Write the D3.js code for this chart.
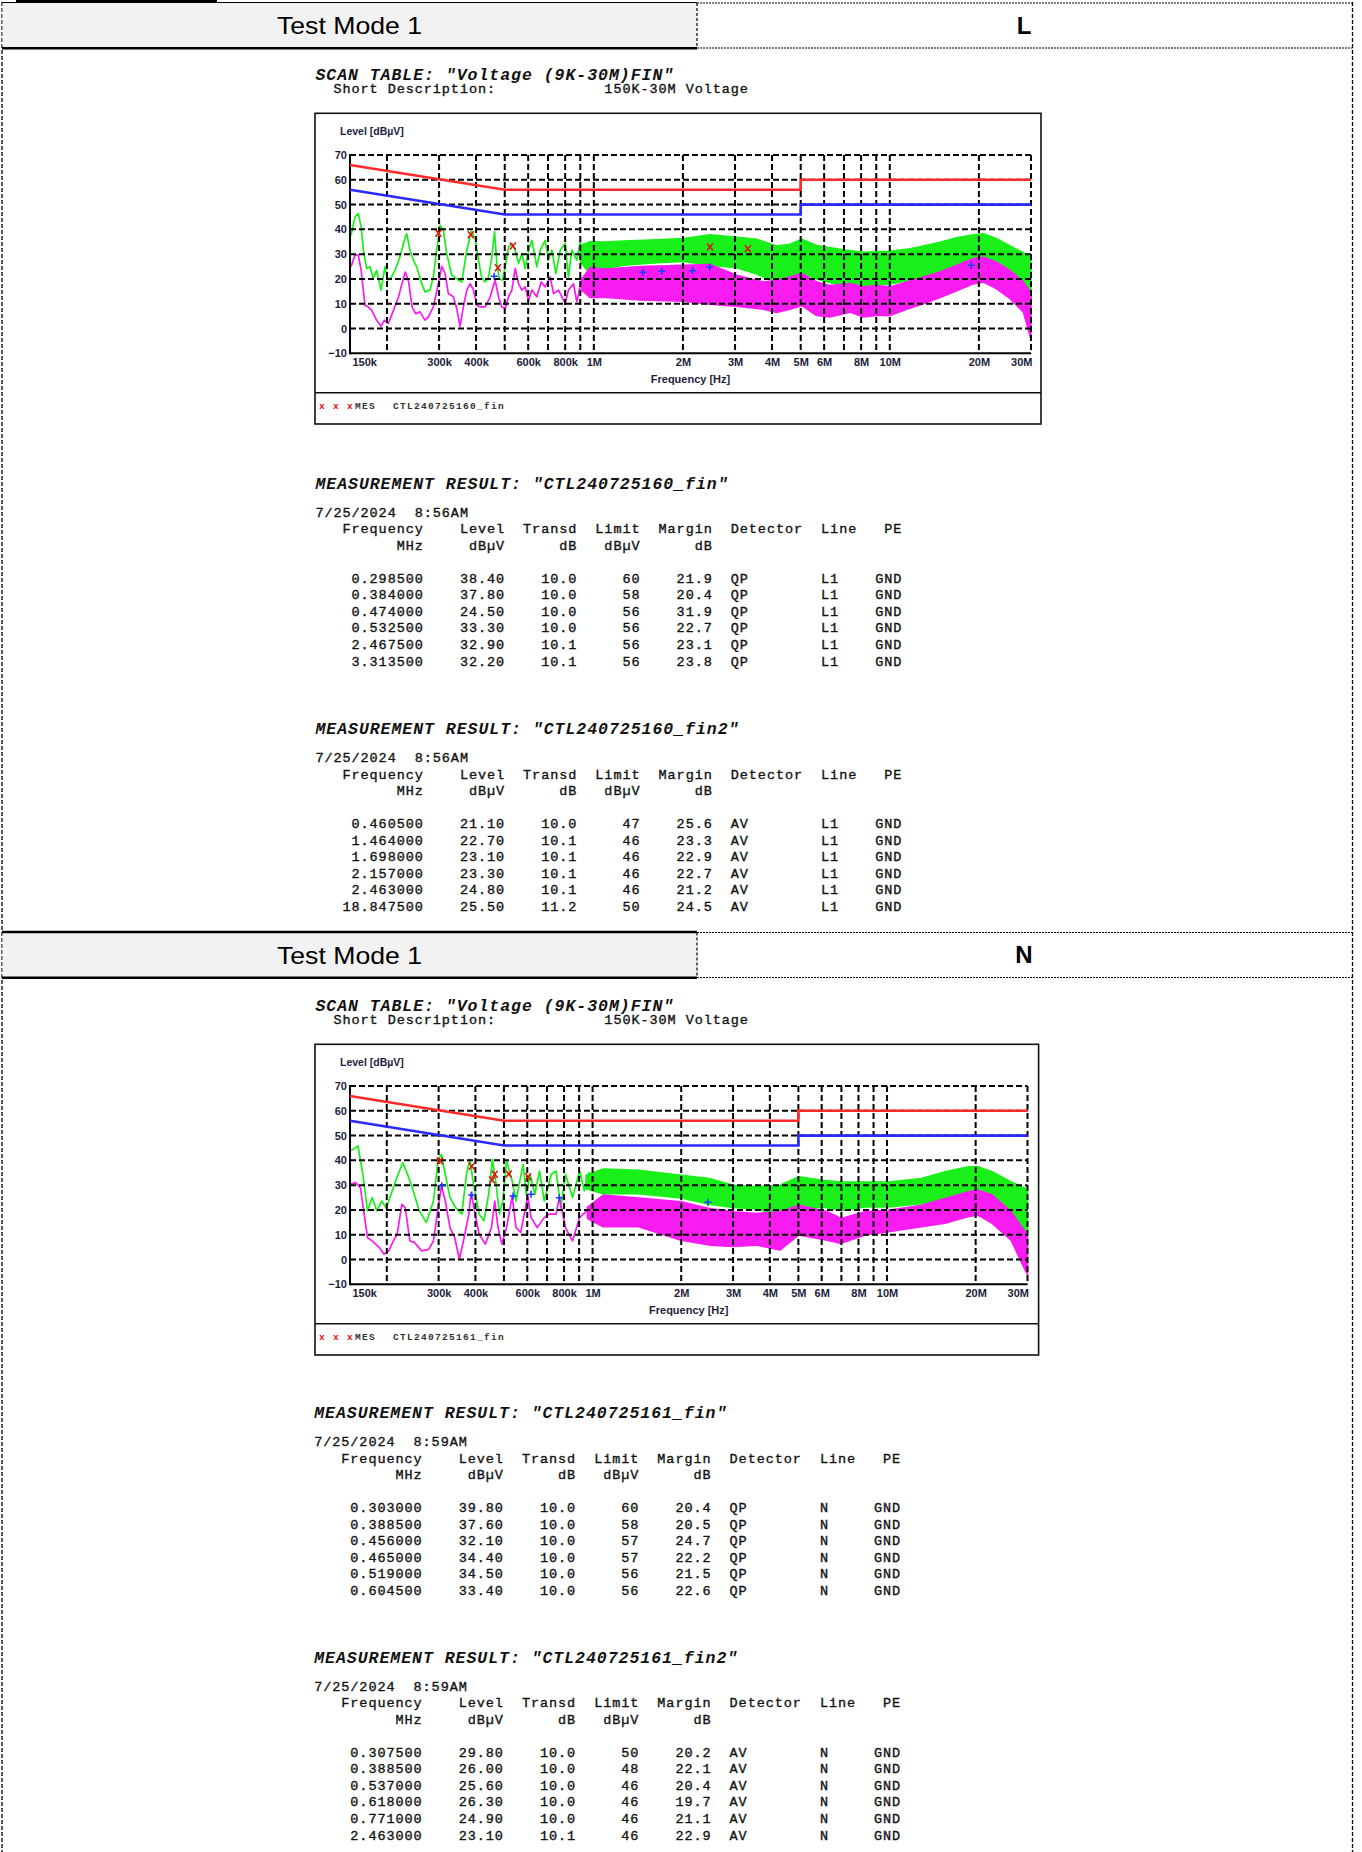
<!DOCTYPE html>
<html>
<head>
<meta charset="utf-8">
<script src="https://cdn.jsdelivr.net/npm/d3@7"></script>
<style>
  body { margin: 0; background: #fff; }
  svg { display: block; }
</style>
</head>
<body>
<svg id="page" width="1362" height="1852"></svg>
<script>
// ---- data ----
const yTicks = [-10, 0, 10, 20, 30, 40, 50, 60, 70];
const xTicks = [0.15, 0.3, 0.4, 0.6, 0.8, 1, 2, 3, 4, 5, 6, 8, 10, 20, 30];
const xTickLabels = ["150k", "300k", "400k", "600k", "800k", "1M", "2M", "3M", "4M", "5M", "6M", "8M", "10M", "20M", "30M"];
const gridFreqs = [0.2, 0.3, 0.4, 0.5, 0.6, 0.7, 0.8, 0.9, 1, 2, 3, 4, 5, 6, 7, 8, 9, 10, 20, 30];

const limitQP = [[0.15, 66], [0.5, 56], [5, 56], [5, 60], [30, 60]];
const limitAV = [[0.15, 56], [0.5, 46], [5, 46], [5, 50], [30, 50]];

// line L : peak (green) and average (magenta) traces, [MHz, dBuV]; bands are [MHz, low, high]
const lQpTrace = [[0.1512,37.6],[0.1559,45.0],[0.1600,46.4],[0.1636,41.0],[0.1665,31.6],[0.1707,24.2],[0.1752,24.9],[0.1797,20.2],[0.1845,23.5],[0.1909,15.5],[0.1969,24.9],[0.2011,19.5],[0.2074,20.8],[0.2128,23.5],[0.2213,28.9],[0.2289,35.6],[0.2331,38.3],[0.2392,31.6],[0.2455,27.6],[0.2520,24.9],[0.2620,18.1],[0.2689,14.8],[0.2795,15.5],[0.2869,20.8],[0.2944,31.6],[0.3022,41.7],[0.3102,39.7],[0.3184,30.2],[0.3311,21.5],[0.3489,19.5],[0.3580,18.8],[0.3722,31.6],[0.3850,39.2],[0.3972,36.3],[0.4077,27.6],[0.4184,20.2],[0.4294,18.8],[0.4407,20.8],[0.4523,28.9],[0.4618,39.0],[0.4703,26.2],[0.4789,20.2],[0.4915,19.5],[0.5044,26.2],[0.5150,32.9],[0.5285,34.3],[0.5424,31.6],[0.5566,26.2],[0.5713,30.2],[0.5862,24.2],[0.6017,31.6],[0.6175,35.6],[0.6419,24.9],[0.6588,31.6],[0.6849,35.6],[0.7028,27.6],[0.7213,31.6],[0.7441,22.2],[0.7697,31.6],[0.7999,34.3],[0.8209,20.8],[0.8425,31.6],[0.8758,27.6],[0.8989,34.9],[0.9346,24.9],[0.9716,32.9],[0.9971,28.9],[1.0368,34.3],[1.0778,27.6]];
const lQpBand = [[0.90,27.0,33.5],[0.9706,22.0,35.0],[1.105,24.0,34.9],[1.258,25.5,35.3],[1.631,26.5,35.8],[2.006,27.0,36.3],[2.469,25.5,37.8],[3.038,24.5,36.8],[3.549,22.0,36.0],[4.147,18.5,33.3],[4.601,19.5,34.0],[5.038,22.5,36.0],[5.660,20.0,33.5],[6.966,17.0,31.8],[8.140,17.2,30.8],[10.02,18.0,31.2],[11.70,19.5,32.2],[12.98,20.5,33.3],[14.78,22.5,34.8],[16.83,24.5,36.6],[19.15,26.5,37.8],[20.71,27.0,38.2],[22.97,23.5,36.2],[25.48,18.5,33.3],[28.27,14.5,30.6],[30,10.5,28.8]];
const lAvTrace = [[0.1512,24.9],[0.1559,29.6],[0.1600,29.6],[0.1636,23.5],[0.1685,9.4],[0.1730,8.7],[0.1774,7.4],[0.1845,3.4],[0.1909,0.9],[0.1959,3.4],[0.2021,2.0],[0.2105,7.4],[0.2189,12.8],[0.2247,18.1],[0.2306,22.8],[0.2368,18.8],[0.2431,8.7],[0.2500,6.0],[0.2585,6.7],[0.2689,3.4],[0.2760,4.7],[0.2869,8.7],[0.2983,18.1],[0.3062,25.1],[0.3142,22.2],[0.3225,14.1],[0.3352,12.8],[0.3440,8.1],[0.3531,0.9],[0.3624,8.7],[0.3722,15.5],[0.3820,18.1],[0.3920,15.5],[0.4024,9.4],[0.4129,8.7],[0.4294,8.7],[0.4464,12.8],[0.4641,19.5],[0.4763,12.8],[0.4889,8.7],[0.5018,8.1],[0.5150,12.8],[0.5285,15.5],[0.5424,24.2],[0.5566,18.1],[0.5713,15.5],[0.5862,16.8],[0.6017,11.4],[0.6175,15.5],[0.6419,12.8],[0.6640,18.8],[0.6849,16.8],[0.7121,20.8],[0.7308,14.1],[0.7598,15.5],[0.7999,10.1],[0.8209,15.5],[0.8535,18.1],[0.8758,10.8],[0.9107,20.2],[0.9346,15.5],[0.9716,18.1],[1.0100,20.8],[1.0500,19.5],[1.0778,20.8]];
const lAvBand = [[0.91,15.5,20.0],[0.9706,12.5,24.5],[1.105,12.5,24.0],[1.432,11.5,25.0],[2.006,11.0,25.5],[2.469,9.8,25.8],[3.038,9.0,21.5],[3.738,7.8,18.8],[4.147,6.5,19.5],[4.601,7.8,20.8],[5.038,9.2,22.2],[5.660,5.2,18.8],[6.281,4.6,17.4],[7.337,6.6,18.2],[8.140,4.6,16.8],[9.031,5.2,17.4],[10.02,5.2,16.8],[11.40,7.8,18.8],[12.98,10.0,20.8],[14.78,12.5,22.8],[16.83,15.2,25.5],[19.15,18.0,28.2],[20.71,18.7,28.8],[22.97,16.0,26.8],[25.48,12.0,23.4],[28.27,6.6,18.8],[30,-4.5,14.5]];

// line N
const nQpTrace = [[0.15,43.8],[0.1568,45.1],[0.1597,45.8],[0.1658,34.4],[0.1720,19.6],[0.1784,25.0],[0.1851,19.6],[0.1921,23.6],[0.1993,20.9],[0.2106,29.0],[0.2185,34.4],[0.2267,39.1],[0.2352,34.4],[0.2441,29.0],[0.2580,19.6],[0.2726,14.9],[0.2881,23.6],[0.2989,40.4],[0.3068,42.4],[0.3160,34.4],[0.3279,25.0],[0.3427,20.9],[0.3595,18.3],[0.3730,34.4],[0.3827,40.4],[0.3942,30.3],[0.4121,18.3],[0.4276,15.6],[0.4436,26.3],[0.4568,40.4],[0.4705,30.3],[0.4828,18.3],[0.4954,23.6],[0.5102,39.8],[0.5333,31.7],[0.5494,23.6],[0.5806,38.4],[0.5957,26.3],[0.6135,34.4],[0.6365,26.3],[0.6604,35.7],[0.6852,23.6],[0.7243,34.4],[0.7515,35.7],[0.7797,20.9],[0.8089,34.4],[0.8548,25.0],[0.9035,35.7],[0.9373,27.7],[0.9727,35.1],[1.028,31.7],[1.086,35.7]];
const nQpBand = [[0.95,28.5,34.0],[1.086,26.5,36.5],[1.432,26.5,36.0],[1.996,24.8,34.0],[2.491,22.3,32.7],[2.995,21.0,30.0],[3.601,20.4,29.4],[4.330,17.8,30.0],[5.018,19.8,33.4],[6.035,21.2,32.0],[6.993,19.8,31.3],[8.409,21.2,31.3],[10.11,21.2,31.3],[13.09,22.5,32.7],[15.74,24.5,35.4],[18.92,26.6,37.4],[20.37,27.2,37.4],[22.76,24.0,35.4],[26.38,17.2,31.3],[29.46,11.8,28.7],[30,11.0,29.0]];
const nAvTrace = [[0.15,30.3],[0.1568,31.0],[0.1627,29.0],[0.1676,18.3],[0.1720,8.8],[0.1784,7.5],[0.1886,4.8],[0.1957,2.1],[0.2030,3.5],[0.2106,7.5],[0.2169,10.2],[0.2251,22.3],[0.2310,20.9],[0.2396,7.5],[0.2486,6.8],[0.2628,3.5],[0.2777,4.1],[0.2881,7.5],[0.2989,20.9],[0.3068,29.7],[0.3160,23.6],[0.3279,12.9],[0.3402,8.8],[0.3529,0.1],[0.3662,8.8],[0.3799,18.3],[0.3870,27.0],[0.3971,19.6],[0.4121,10.2],[0.4323,6.2],[0.4535,12.9],[0.4653,23.6],[0.4775,12.9],[0.4918,6.2],[0.5102,12.9],[0.5333,25.6],[0.5494,12.9],[0.5700,10.9],[0.6023,25.6],[0.6180,16.9],[0.6483,12.9],[0.6852,16.9],[0.7109,18.3],[0.7515,18.3],[0.7711,25.0],[0.8089,12.9],[0.8548,7.5],[0.9035,16.9],[0.9548,19.6],[1.009,20.9],[1.086,22.3]];
const nAvBand = [[0.96,16.5,21.0],[1.086,13.2,26.0],[1.432,13.2,24.8],[1.996,7.8,23.3],[2.491,5.8,20.6],[2.995,5.2,19.3],[3.601,5.8,18.6],[4.330,3.8,19.3],[5.018,9.9,21.9],[6.261,7.8,19.3],[6.993,6.5,16.6],[8.409,9.9,19.3],[10.11,11.2,19.9],[13.09,13.2,21.9],[15.74,14.6,24.6],[18.92,17.3,27.3],[20.37,17.9,28.0],[22.76,14.6,26.0],[26.38,7.8,19.3],[29.46,-4.3,11.2],[30,-6.0,9.0]];

// measurement tables
const colHeads = ["Frequency", "Level", "Transd", "Limit", "Margin", "Detector", "Line", "PE"];
const colUnits = ["MHz", "dB\u00b5V", "dB", "dB\u00b5V", "dB"];
const lQpRows = [
  ["0.298500","38.40","10.0","60","21.9","QP","L1","GND"],
  ["0.384000","37.80","10.0","58","20.4","QP","L1","GND"],
  ["0.474000","24.50","10.0","56","31.9","QP","L1","GND"],
  ["0.532500","33.30","10.0","56","22.7","QP","L1","GND"],
  ["2.467500","32.90","10.1","56","23.1","QP","L1","GND"],
  ["3.313500","32.20","10.1","56","23.8","QP","L1","GND"]];
const lAvRows = [
  ["0.460500","21.10","10.0","47","25.6","AV","L1","GND"],
  ["1.464000","22.70","10.1","46","23.3","AV","L1","GND"],
  ["1.698000","23.10","10.1","46","22.9","AV","L1","GND"],
  ["2.157000","23.30","10.1","46","22.7","AV","L1","GND"],
  ["2.463000","24.80","10.1","46","21.2","AV","L1","GND"],
  ["18.847500","25.50","11.2","50","24.5","AV","L1","GND"]];
const nQpRows = [
  ["0.303000","39.80","10.0","60","20.4","QP","N","GND"],
  ["0.388500","37.60","10.0","58","20.5","QP","N","GND"],
  ["0.456000","32.10","10.0","57","24.7","QP","N","GND"],
  ["0.465000","34.40","10.0","57","22.2","QP","N","GND"],
  ["0.519000","34.50","10.0","56","21.5","QP","N","GND"],
  ["0.604500","33.40","10.0","56","22.6","QP","N","GND"]];
const nAvRows = [
  ["0.307500","29.80","10.0","50","20.2","AV","N","GND"],
  ["0.388500","26.00","10.0","48","22.1","AV","N","GND"],
  ["0.537000","25.60","10.0","46","20.4","AV","N","GND"],
  ["0.618000","26.30","10.0","46","19.7","AV","N","GND"],
  ["0.771000","24.90","10.0","46","21.1","AV","N","GND"],
  ["2.463000","23.10","10.1","46","22.9","AV","N","GND"]];

// ---- drawing ----
const svg = d3.select("#page");
const W = 1362, H = 1852;
const mono = "'Liberation Mono', 'Courier New', monospace";
const sans = "'Liberation Sans', Arial, sans-serif";

// page frame
svg.append("line").attr("x1", 2).attr("x2", 2).attr("y1", 2).attr("y2", H)
  .attr("stroke", "#000").attr("stroke-width", 1.3).attr("stroke-dasharray", "4,2");
svg.append("line").attr("x1", 1352.5).attr("x2", 1352.5).attr("y1", 2).attr("y2", H)
  .attr("stroke", "#000").attr("stroke-width", 1.3).attr("stroke-dasharray", "4,2");

const cellSplit = 697;

const drawHeader = (y0, label, first) => {
  const g = svg.append("g");
  g.append("rect").attr("x", 2.5).attr("y", y0 + 3).attr("width", cellSplit - 2.5).attr("height", 44.5)
    .attr("fill", "#f2f2f2");
  if (first) {
    g.append("line").attr("x1", 16).attr("x2", 217).attr("y1", y0 + 1).attr("y2", y0 + 1)
      .attr("stroke", "#000").attr("stroke-width", 2.5);
    g.append("line").attr("x1", 2).attr("x2", cellSplit).attr("y1", y0 + 2.5).attr("y2", y0 + 2.5)
      .attr("stroke", "#000").attr("stroke-width", 1);
  } else {
    g.append("line").attr("x1", 2).attr("x2", cellSplit).attr("y1", y0 + 2.5).attr("y2", y0 + 2.5)
      .attr("stroke", "#000").attr("stroke-width", 2.5);
  }
  g.append("line").attr("x1", 2).attr("x2", cellSplit).attr("y1", y0 + 48.3).attr("y2", y0 + 48.3)
    .attr("stroke", "#000").attr("stroke-width", 2.5);
  [y0 + 3, y0 + 48].forEach(yy => {
    g.append("line").attr("x1", cellSplit).attr("x2", 1352.5).attr("y1", yy).attr("y2", yy)
      .attr("stroke", "#000").attr("stroke-width", 1.2).attr("stroke-dasharray", "2,1");
  });
  g.append("line").attr("x1", cellSplit).attr("x2", cellSplit).attr("y1", y0 + 3).attr("y2", y0 + 48)
    .attr("stroke", "#000").attr("stroke-width", 1.2).attr("stroke-dasharray", "3,2");
  g.append("text").attr("x", (2 + cellSplit) / 2).attr("y", y0 + 34)
    .attr("text-anchor", "middle").attr("font-family", sans).attr("font-size", "24px")
    .attr("textLength", 145).attr("lengthAdjust", "spacingAndGlyphs")
    .attr("fill", "#000").text("Test Mode 1");
  g.append("text").attr("x", 1024).attr("y", y0 + 33.5)
    .attr("text-anchor", "middle").attr("font-family", sans).attr("font-size", "24px")
    .attr("font-weight", "bold").attr("fill", "#000").text(label);
};

// monospace columns
const cw = 9.03;
const bodyFont = { size: 13.5, spacing: cw - 13.5 * 0.6 };
const titleFont = { size: 16.5, spacing: 10.87 - 16.5 * 0.6 };

const monoText = (g, x, y, s, opts = {}) => g.append("text")
  .attr("x", x).attr("y", y)
  .attr("font-family", mono)
  .attr("font-size", (opts.size || bodyFont.size) + "px")
  .attr("letter-spacing", (opts.spacing != null ? opts.spacing : bodyFont.spacing) + "px")
  .attr("font-weight", opts.bold ? "bold" : "normal")
  .attr("font-style", opts.italic ? "italic" : "normal")
  .attr("fill", opts.fill || "#111")
  .attr("stroke", opts.bold ? "none" : (opts.fill || "#111"))
  .attr("stroke-width", opts.bold ? 0 : 0.35)
  .style("white-space", "pre")
  .text(s);

const drawScanTitle = (x0, y0) => {
  const g = svg.append("g");
  monoText(g, x0, y0 + 79.5, 'SCAN TABLE: "Voltage (9K-30M)FIN"',
    { size: titleFont.size, spacing: titleFont.spacing, bold: true, italic: true, fill: "#111" });
  monoText(g, x0 + 2 * cw, y0 + 92.6, "Short Description:");
  monoText(g, x0 + 32 * cw, y0 + 92.6, "150K-30M Voltage");
};

const rowEnds = [12, 21, 29, 36, 44];   // right aligned columns
const rowStarts = [46, 56, 62];         // left aligned columns
const headStarts = [46, 56, 63];

const drawTable = (x0, yT, title, date, rows) => {
  const g = svg.append("g");
  const col = d3.scaleLinear().domain([0, 1]).range([x0, x0 + cw]);
  monoText(g, x0, yT, `MEASUREMENT RESULT: "${title}"`,
    { size: titleFont.size, spacing: titleFont.spacing, bold: true, italic: true, fill: "#111" });
  monoText(g, x0, yT + 28.3, date);
  const cellX = (s, i, starts) => i < 5 ? col(rowEnds[i] - s.length) : col(starts[i - 5]);
  colHeads.forEach((h, i) => monoText(g, cellX(h, i, headStarts), yT + 44.8, h));
  colUnits.forEach((u, i) => monoText(g, cellX(u, i, headStarts), yT + 61.4, u));
  rows.forEach((r, j) => {
    r.forEach((c, i) => monoText(g, cellX(c, i, rowStarts), yT + 94.3 + j * 16.54, c));
  });
};

const drawChart = (box, plot, traces, qpRows, avRows, legendName) => {
  const g = svg.append("g");
  // frame
  g.append("rect").attr("x", box.x0).attr("y", box.y0)
    .attr("width", box.x1 - box.x0).attr("height", box.y1 - box.y0)
    .attr("fill", "#fff").attr("stroke", "#111").attr("stroke-width", 1.6);
  g.append("line").attr("x1", box.x0).attr("x2", box.x1).attr("y1", box.sep).attr("y2", box.sep)
    .attr("stroke", "#111").attr("stroke-width", 1.6);

  const x = d3.scaleLog().domain([0.15, 30]).range([plot.x0, plot.x1]);
  const y = d3.scaleLinear().domain([-10, 70]).range([plot.y1, plot.y0]);

  const line = d3.line().x(d => x(d[0])).y(d => y(d[1]));
  const area = d3.area().x(d => x(d[0])).y0(d => y(d[1])).y1(d => y(d[2]));

  const drawTrace = (pts, band, color) => {
    g.append("path").datum(band).attr("d", area)
      .attr("fill", color).attr("stroke", color).attr("stroke-width", 1.5).attr("stroke-linejoin", "round");
    g.append("path").datum(pts).attr("d", line)
      .attr("fill", "none").attr("stroke", color).attr("stroke-width", 1.7).attr("stroke-linejoin", "round");
  };
  drawTrace(traces.qp, traces.qpBand, "#19f019");
  drawTrace(traces.av, traces.avBand, "#f81cf0");

  // grid
  const grid = g.append("g").attr("stroke", "#000").attr("stroke-width", 2).attr("stroke-dasharray", "6,3");
  yTicks.filter(v => v > -10).forEach(v => {
    grid.append("line").attr("x1", plot.x0).attr("x2", plot.x1).attr("y1", y(v)).attr("y2", y(v));
  });
  gridFreqs.forEach(f => {
    grid.append("line").attr("x1", x(f)).attr("x2", x(f)).attr("y1", plot.y0).attr("y2", plot.y1);
  });
  g.append("line").attr("x1", plot.x0).attr("x2", plot.x0).attr("y1", plot.y0 - 1).attr("y2", plot.y1 + 1)
    .attr("stroke", "#000").attr("stroke-width", 2);
  g.append("line").attr("x1", plot.x0).attr("x2", plot.x1).attr("y1", plot.y1).attr("y2", plot.y1)
    .attr("stroke", "#000").attr("stroke-width", 2);

  // limits
  g.append("path").datum(limitQP).attr("d", line).attr("fill", "none")
    .attr("stroke", "#ff2a2a").attr("stroke-width", 2.6);
  g.append("path").datum(limitAV).attr("d", line).attr("fill", "none")
    .attr("stroke", "#2a2aff").attr("stroke-width", 2.6);

  // measured points
  qpRows.forEach(r => {
    const cx = x(+r[0]), cy = y(+r[1]);
    g.append("path").attr("d", `M${cx - 3},${cy - 3.5}L${cx + 3},${cy + 3.5}M${cx + 3},${cy - 3.5}L${cx - 3},${cy + 3.5}`)
      .attr("stroke", "#e01010").attr("stroke-width", 1.6);
  });
  avRows.forEach(r => {
    const cx = x(+r[0]), cy = y(+r[1]);
    g.append("path").attr("d", `M${cx - 3.5},${cy}L${cx + 3.5},${cy}M${cx},${cy - 3.5}L${cx},${cy + 3.5}`)
      .attr("stroke", "#1a3cff").attr("stroke-width", 1.6);
  });

  // axes labels
  const yAxis = g.append("g").attr("transform", `translate(${plot.x0},0)`)
    .call(d3.axisLeft(y).tickValues(yTicks).tickSize(0).tickPadding(3));
  yAxis.select(".domain").remove();
  yAxis.selectAll("text").attr("font-family", sans).attr("font-size", "11px")
    .attr("font-weight", "bold").attr("fill", "#1d1d3c");

  const xAxis = g.append("g").attr("transform", `translate(0,${plot.y1})`)
    .call(d3.axisBottom(x).tickValues(xTicks).tickFormat((d, i) => xTickLabels[i]).tickSize(0).tickPadding(5));
  xAxis.select(".domain").remove();
  xAxis.selectAll("text").attr("font-family", sans).attr("font-size", "11px")
    .attr("font-weight", "bold").attr("fill", "#1d1d3c");
  xAxis.selectAll("text").filter((d, i) => i === 0).attr("text-anchor", "start").attr("dx", 2);
  xAxis.selectAll("text").filter((d, i) => i === xTicks.length - 1).attr("text-anchor", "end").attr("dx", 1);

  g.append("text").attr("x", plot.x0 - 10).attr("y", box.y0 + 22)
    .attr("font-family", sans).attr("font-size", "10.5px").attr("font-weight", "bold")
    .attr("fill", "#1d1d3c").text("Level [dB\u00b5V]");
  g.append("text").attr("x", (plot.x0 + plot.x1) / 2).attr("y", plot.y1 + 30)
    .attr("text-anchor", "middle").attr("font-family", sans).attr("font-size", "11px")
    .attr("font-weight", "bold").attr("fill", "#1d1d3c").text("Frequency [Hz]");

  // legend strip
  const ly = box.sep + 16;
  monoText(g, box.x0 + 4, ly, "x x x", { size: 9.5, spacing: 1.3, fill: "#e01010", bold: true });
  monoText(g, box.x0 + 40, ly, "MES", { size: 9.5, spacing: 1.3, bold: true, fill: "#333" });
  monoText(g, box.x0 + 78, ly, legendName, { size: 9.5, spacing: 1.3, bold: true, fill: "#333" });
};

// ---- section L ----
drawHeader(0, "L", true);
drawScanTitle(315.4, 0);
drawChart({ x0: 315, y0: 113.3, x1: 1041, y1: 424, sep: 392.7 },
  { x0: 350, y0: 155, x1: 1031, y1: 353.3 },
  { qp: lQpTrace, qpBand: lQpBand, av: lAvTrace, avBand: lAvBand },
  lQpRows, lAvRows, "CTL240725160_fin");
drawTable(315.4, 488.5, "CTL240725160_fin", "7/25/2024  8:56AM", lQpRows);
drawTable(315.4, 734, "CTL240725160_fin2", "7/25/2024  8:56AM", lAvRows);

// ---- section N ----
const dN = 929.5;
drawHeader(dN, "N", false);
drawScanTitle(315.4, dN + 1.5);
drawChart({ x0: 315, y0: 113.3 + 931, x1: 1038.6, y1: 424 + 931, sep: 392.7 + 931 },
  { x0: 350, y0: 155 + 931, x1: 1027.5, y1: 353.3 + 931 },
  { qp: nQpTrace, qpBand: nQpBand, av: nAvTrace, avBand: nAvBand },
  nQpRows, nAvRows, "CTL240725161_fin");
drawTable(314.2, 488.5 + dN, "CTL240725161_fin", "7/25/2024  8:59AM", nQpRows);
drawTable(314.2, 734 + dN - 1, "CTL240725161_fin2", "7/25/2024  8:59AM", nAvRows);
</script>
</body>
</html>
